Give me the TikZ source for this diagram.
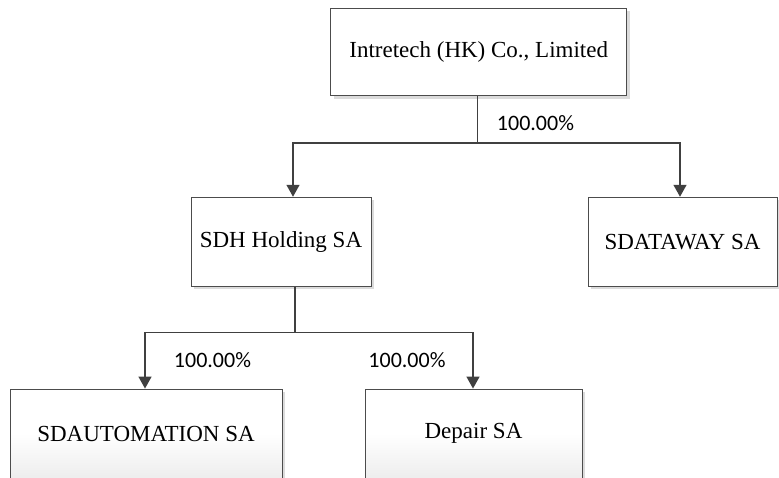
\documentclass[tikz,border=0pt]{standalone}
\usepackage{fontspec}
\setmainfont{Liberation Serif}
\newfontfamily\labfont{Carlito}
\usetikzlibrary{arrows.meta,shadows}
\begin{document}
\begin{tikzpicture}[x=1pt,y=-1pt,
  box/.style={draw=black!70, line width=0.9pt, fill=white, rectangle, inner sep=0pt,
    font=\fontsize{23}{26}\selectfont,
    drop shadow={shadow xshift=3pt, shadow yshift=-3pt, fill=black!14, opacity=1}},
  lowbox/.style={box, top color=white, bottom color=black!7, middle color=white},
  conn/.style={draw=black!75, line width=1.5pt},
  arr/.style={conn, -{Triangle[width=13pt,length=12pt]}},
  pct/.style={font=\labfont\fontsize{22}{26}\selectfont, inner sep=0pt}]
\useasboundingbox (0,0) rectangle (779,477);
\node[box, minimum width=296pt, minimum height=87.5pt] (top) at (478.7,52) {Intretech (HK) Co., Limited};
\node[box, minimum width=180pt, minimum height=89pt] (sdh) at (281,241.7) {SDH Holding SA};
\node[box, minimum width=189pt, minimum height=89pt] (sdw) at (682.5,241.7) {SDATAWAY SA};
\node[lowbox, minimum width=272pt, minimum height=89pt] (sda) at (146,433.5) {SDAUTOMATION SA};
\node[lowbox, minimum width=217pt, minimum height=89pt] (dep) at (473.5,433.5) {Depair SA};
\coordinate (j1) at (477.5,143);
\coordinate (j2) at (295,332.3);
\draw[conn] (top.south -| j1) -- (j1);
\draw[arr] (j1) -| ([xshift=12pt]sdh.north);
\draw[arr] (j1) -| ([xshift=-2.5pt]sdw.north);
\draw[conn] (sdh.south -| j2) -- (j2);
\draw[arr] (j2) -| ([xshift=-1pt]sda.north);
\draw[arr] (j2) -| ([xshift=-0.5pt]dep.north);
\node[pct] (p1) at (535.5,123) {100.00\%};
\node[pct] (p2) at (212.5,360) {100.00\%};
\node[pct] (p3) at (407,360) {100.00\%};
\end{tikzpicture}
\end{document}
